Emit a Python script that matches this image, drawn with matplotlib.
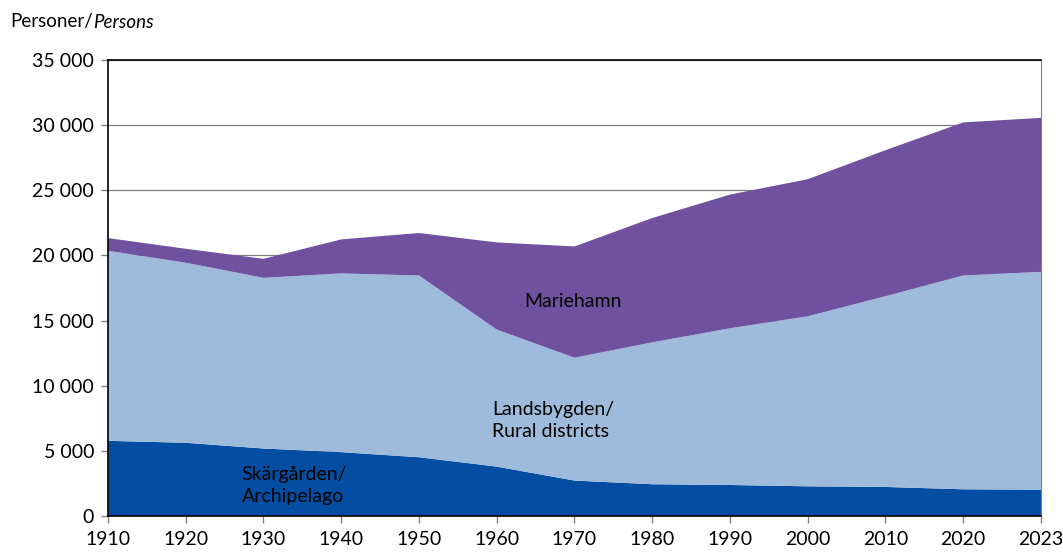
import numpy as np
import matplotlib.pyplot as plt
from matplotlib.ticker import FuncFormatter

plt.rcParams['font.family'] = ['Lato', 'DejaVu Sans']

years = ['1910', '1920', '1930', '1940', '1950', '1960', '1970',
         '1980', '1990', '2000', '2010', '2020', '2023']
# population
skargarden = [5770, 5620, 5180, 4900, 4510, 3790, 2720,
              2440, 2380, 2280, 2230, 2050, 2020]
landsbygd_cum = [20360, 19440, 18280, 18620, 18460, 14310, 12150,
                 13330, 14410, 15330, 16870, 18460, 18740]
total = [21330, 20510, 19740, 21230, 21720, 21000, 20690,
         22870, 24670, 25850, 28080, 30210, 30560]

landsbygden = [c - s for c, s in zip(landsbygd_cum, skargarden)]
mariehamn = [t - c for t, c in zip(total, landsbygd_cum)]

colors = ['#034ea2', '#9ebbdb', '#6f51a0']
fs = 14

fig = plt.figure(figsize=(10.63, 5.53), dpi=100)
ax = fig.add_axes([0.1016, 0.0669, 0.8777, 0.8246])

x = np.arange(len(years))
ax.stackplot(x, skargarden, landsbygden, mariehamn, colors=colors, linewidth=0)

ax.set_xlim(0, len(years) - 1)
ax.set_ylim(0, 35000)
ax.set_yticks(range(0, 35001, 5000))
ax.yaxis.set_major_formatter(FuncFormatter(lambda v, p: f'{int(v):,}'.replace(',', ' ')))
ax.set_xticks(x)
ax.set_xticklabels(years)
ax.grid(axis='y', color='#808080', linewidth=0.9)
ax.set_axisbelow(True)
ax.tick_params(axis='both', labelsize=fs, length=5, width=1, color='#808080')
ax.tick_params(axis='x', pad=6)
ax.tick_params(axis='y', pad=5)

for s in ['left', 'bottom', 'top']:
    ax.spines[s].set_color('black')
    ax.spines[s].set_linewidth(1.2)
ax.spines['right'].set_color('#808080')

ax.text(5.35, 16450, 'Mariehamn', fontsize=fs, va='center')
ax.text(4.94, 7300, 'Landsbygden/\nRural districts', fontsize=fs, va='center', linespacing=1.35)
ax.text(1.72, 2350, 'Skärgården/\nArchipelago', fontsize=fs, va='center', linespacing=1.35)

t1 = fig.text(10 / 1063, 1 - 22 / 553, 'Personer/', fontsize=13.5, va='center')
fig.canvas.draw()
bb = t1.get_window_extent()
fig.text(bb.x1 / fig.bbox.width, 1 - 22 / 553, 'Persons', fontsize=13.5, style='italic', va='center')

fig.savefig('out.png', dpi=100)
